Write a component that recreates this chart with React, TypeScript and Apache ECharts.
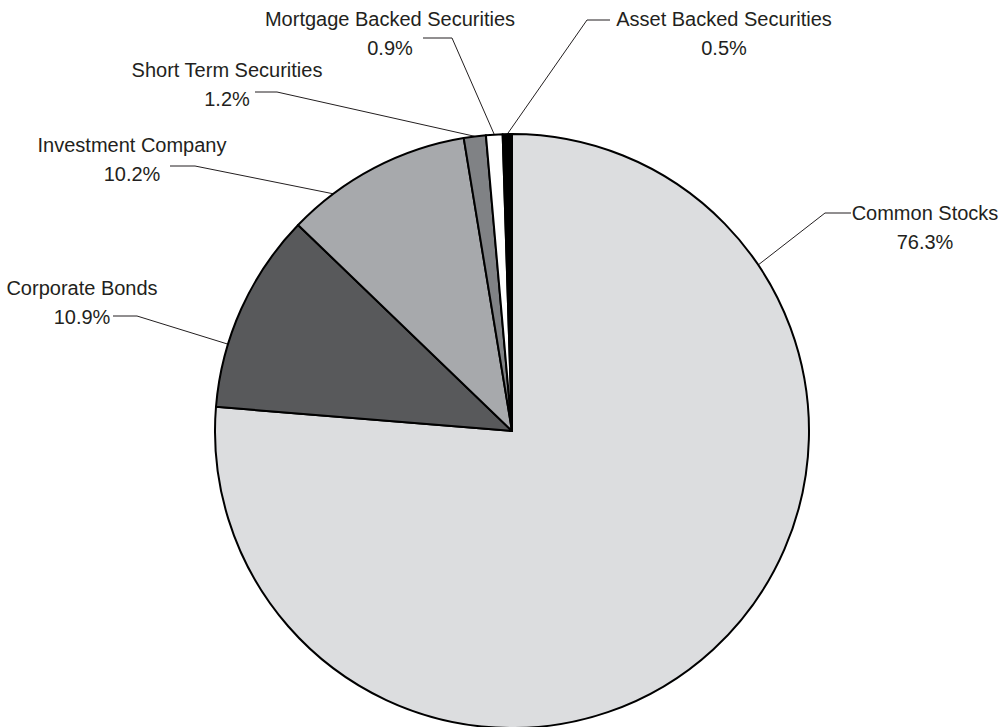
import React, { useEffect, useRef } from "react";
import * as echarts from "echarts";

// ---- data ----
const categories = [
  "Common Stocks",
  "Corporate Bonds",
  "Investment Company",
  "Short Term Securities",
  "Mortgage Backed Securities",
  "Asset Backed Securities",
];
const values = [76.3, 10.9, 10.2, 1.2, 0.9, 0.5];
const sliceColors = ["#dcdddf", "#58595b", "#a7a9ac", "#808285", "#ffffff", "#000000"];

// ---- layout ----
const CX = 512;
const CY = 431;
const R = 297;
// label block centre, leader horizontal run (y, elbow x, end x), optional anchor angle (deg clockwise from top)
const labelPlacement: Array<{ x: number; y: number; lineY: number; elbowX: number; endX: number; anchorDeg?: number }> = [
  { x: 925, y: 227, lineY: 213, elbowX: 825, endX: 851, anchorDeg: 56 },
  { x: 82, y: 302, lineY: 316, elbowX: 137, endX: 113, anchorDeg: 287 },
  { x: 132, y: 159, lineY: 166, elbowX: 195, endX: 170, anchorDeg: 323 },
  { x: 227, y: 84, lineY: 92, elbowX: 277, endX: 255 },
  { x: 390, y: 33, lineY: 38, elbowX: 452, endX: 423 },
  { x: 724, y: 33, lineY: 20, elbowX: 587, endX: 610 },
];

const FONT = "'Liberation Sans', Arial, 'Roboto', sans-serif";

export default function App() {
  const ref = useRef<HTMLDivElement>(null);

  useEffect(() => {
    document.body.style.margin = "0";
    if (!ref.current) return;
    const chart = echarts.init(ref.current, undefined, { renderer: "svg" });

    const total = values.reduce((a, b) => a + b, 0);
    const midDeg: number[] = [];
    let acc = 0;
    values.forEach((v) => {
      midDeg.push(((acc + v / 2) / total) * 360);
      acc += v;
    });

    chart.setOption({
      animation: false,
      backgroundColor: "#ffffff",
      series: [
        {
          type: "pie",
          center: [CX, CY],
          radius: [0, R],
          startAngle: 90,
          clockwise: true,
          avoidLabelOverlap: false,
          silent: true,
          data: categories.map((name, i) => ({
            name,
            value: values[i],
            itemStyle: { color: sliceColors[i] },
          })),
          itemStyle: { borderColor: "#000000", borderWidth: 2 },
          label: {
            show: true,
            position: "outside",
            formatter: (p: any) => `${p.name}\n${Number(p.value).toFixed(1)}%`,
            fontFamily: FONT,
            fontSize: 20,
            lineHeight: 29,
            color: "#231f20",
            align: "center",
          },
          labelLine: {
            show: true,
            lineStyle: { color: "#231f20", width: 1 },
          },
          labelLayout: (params: any) => {
            const lp = labelPlacement[params.dataIndex];
            const deg = lp.anchorDeg !== undefined ? lp.anchorDeg : midDeg[params.dataIndex];
            const rad = (deg * Math.PI) / 180;
            const ax = CX + R * Math.sin(rad);
            const ay = CY - R * Math.cos(rad);
            return {
              x: lp.x,
              y: lp.y,
              align: "center",
              verticalAlign: "middle",
              labelLinePoints: [
                [ax, ay],
                [lp.elbowX, lp.lineY],
                [lp.endX, lp.lineY],
              ],
            };
          },
        },
      ],
    });

    return () => chart.dispose();
  }, []);

  return <div ref={ref} style={{ width: 1005, height: 727 }} />;
}
